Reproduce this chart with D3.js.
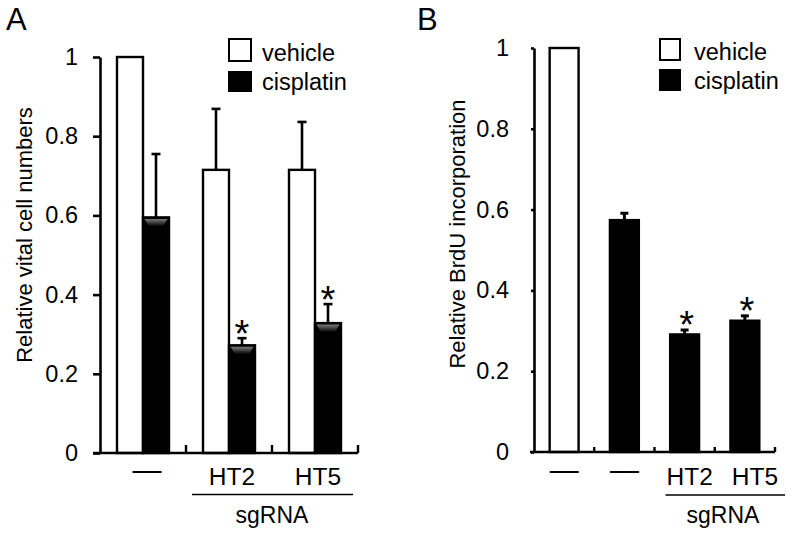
<!DOCTYPE html>
<html>
<head>
<meta charset="utf-8">
<script src="https://cdn.jsdelivr.net/npm/d3@7"></script>
<style>
  html, body { margin: 0; padding: 0; background: #fff; }
  svg { display: block; }
  text { font-family: "Liberation Sans", Arial, Helvetica, sans-serif; fill: #000; }
</style>
</head>
<body>
<svg id="chart" width="792" height="538"></svg>
<script>
// ---------- Panel A data ----------
const groupsA = ["none", "HT2", "HT5"];
const labelsA = ["\u2014", "HT2", "HT5"];
const vehicleA = [1.0, 0.715, 0.715];
const vehicleErrA = [0, 0.154, 0.121];
const cisplatinA = [0.595, 0.272, 0.328];
const cisplatinErrA = [0.160, 0.018, 0.048];
const sigVehicleA = [false, false, false];
const sigCisplatinA = [false, true, true];
const yTicksA = [0, 0.2, 0.4, 0.6, 0.8, 1];

// ---------- Panel B data ----------
const groupsB = ["vehicle", "cisplatin", "HT2", "HT5"];
const labelsB = ["\u2014", "\u2014", "HT2", "HT5"];
const treatmentB = ["vehicle", "cisplatin", "cisplatin", "cisplatin"];
const valuesB = [1.0, 0.574, 0.291, 0.325];
const errB = [0, 0.017, 0.011, 0.012];
const sigB = [false, false, true, true];
const yTicksB = [0, 0.2, 0.4, 0.6, 0.8, 1];

const legendItems = ["vehicle", "cisplatin"];
const yTitleA = "Relative vital cell numbers";
const yTitleB = "Relative BrdU incorporation";
const groupTitle = "sgRNA";

const svg = d3.select("#chart");
const FONT = 22;
const TICKFONT = 23.5;
const fmt = d => (d === 0 || d === 1) ? String(d) : d.toFixed(1);

const defs = svg.append("defs");
const grad = defs.append("linearGradient").attr("id", "sheen").attr("x1", 0).attr("y1", 0).attr("x2", 0).attr("y2", 1);
grad.append("stop").attr("offset", "0%").attr("stop-color", "#7a7a7a");
grad.append("stop").attr("offset", "100%").attr("stop-color", "#000");

function fillFor(t) { return t === "vehicle" ? "#fff" : "#000"; }

// ================= Panel A =================
(function () {
  const g = svg.append("g");
  const y = d3.scaleLinear().domain([0, 1]).range([453, 57]);
  const x = d3.scaleBand().domain(groupsA).range([100, 358]).padding(0);
  const sub = d3.scaleBand().domain(legendItems).range([0, 52]);
  const barW = sub.bandwidth();

  g.append("text").attr("x", 6).attr("y", 30).style("font-size", "31px").text("A");

  const ya = g.append("g").attr("transform", "translate(100,0)")
    .call(d3.axisLeft(y).tickValues(yTicksA).tickFormat(fmt).tickSize(7).tickSizeOuter(0).tickPadding(15));
  ya.select(".domain").attr("stroke", "#000").attr("stroke-width", 2.6);
  ya.selectAll(".tick line").attr("stroke", "#000").attr("stroke-width", 2.6);
  ya.selectAll(".tick text").style("font-size", TICKFONT + "px").style("font-family", "Liberation Sans, Arial, sans-serif").attr("fill", "#000");

  g.append("text")
    .attr("transform", `translate(32,${(y(0) + y(1)) / 2 - 20}) rotate(-90)`)
    .attr("text-anchor", "middle").style("font-size", FONT + "px").text(yTitleA);

  const series = [
    { key: "vehicle", vals: vehicleA, errs: vehicleErrA, sig: sigVehicleA },
    { key: "cisplatin", vals: cisplatinA, errs: cisplatinErrA, sig: sigCisplatinA }
  ];
  series.forEach(s => {
    groupsA.forEach((grp, i) => {
      const x0 = x(grp) + x.bandwidth() / 2 - 26 + sub(s.key);
      const cx = x0 + barW / 2;
      const v = s.vals[i], e = s.errs[i];
      if (e > 0) {
        g.append("line").attr("x1", cx).attr("x2", cx).attr("y1", y(v)).attr("y2", y(v + e))
          .attr("stroke", "#000").attr("stroke-width", 2.6);
        g.append("line").attr("x1", cx - 4.5).attr("x2", cx + 4.5).attr("y1", y(v + e)).attr("y2", y(v + e))
          .attr("stroke", "#000").attr("stroke-width", 2.6);
      }
      g.append("rect").attr("x", x0).attr("y", y(v)).attr("width", barW).attr("height", y(0) - y(v))
        .attr("fill", fillFor(s.key)).attr("stroke", "#000").attr("stroke-width", 2.4);
      if (s.key === "cisplatin") {
        const t = y(v);
        g.append("path")
          .attr("d", `M${x0 + 1.5},${t + 1.5} L${x0 + barW - 1.5},${t + 1.5} L${x0 + barW - 6},${t + 9} L${x0 + 6},${t + 9} Z`)
          .attr("fill", "url(#sheen)");
      }
      if (s.sig[i]) {
        g.append("text").attr("x", cx).attr("y", y(v + e) - 14).attr("dy", "0.6em")
          .attr("text-anchor", "middle").style("font-size", "38px").text("*");
      }
    });
  });

  g.append("line").attr("x1", 93).attr("x2", x.range()[1]).attr("y1", y(0)).attr("y2", y(0))
    .attr("stroke", "#000").attr("stroke-width", 2.6);
  groupsA.forEach(grp => {
    const bx = x(grp) + x.bandwidth();
    g.append("line").attr("x1", bx).attr("x2", bx).attr("y1", y(0)).attr("y2", y(0) - 8)
      .attr("stroke", "#000").attr("stroke-width", 2.4);
  });

  labelsA.forEach((lab, i) => {
    const cx = x(groupsA[i]) + x.bandwidth() / 2;
    if (lab === "\u2014") {
      g.append("text").attr("x", cx + 4).attr("y", 480).attr("text-anchor", "middle")
        .style("font-size", "29px").text(lab);
    } else {
      g.append("text").attr("x", cx + 3).attr("y", 485).attr("text-anchor", "middle")
        .style("font-size", "24.5px").text(lab);
    }
  });
  g.append("line").attr("x1", x("HT2") + 6).attr("x2", x("HT5") + x.bandwidth() - 5)
    .attr("y1", 494.5).attr("y2", 494.5).attr("stroke", "#000").attr("stroke-width", 1.3);
  g.append("text").attr("x", (x("HT2") + x("HT5") + x.bandwidth()) / 2).attr("y", 523)
    .attr("text-anchor", "middle").style("font-size", "23px").text(groupTitle);

  legendItems.forEach((k, i) => {
    const ly = 39 + i * 32;
    g.append("rect").attr("x", 229).attr("y", ly + (i ? 1 : 0)).attr("width", 22).attr("height", i ? 19 : 22)
      .attr("fill", fillFor(k)).attr("stroke", "#000").attr("stroke-width", 2);
    g.append("text").attr("x", 262).attr("y", 61 + i * 29).style("font-size", "23.5px").text(k);
  });
})();

// ================= Panel B =================
(function () {
  const g = svg.append("g");
  const y = d3.scaleLinear().domain([0, 1]).range([452, 48]);
  const x = d3.scaleBand().domain(groupsB).range([534, 775]).padding(0);
  const barW = x.bandwidth() * 0.48;

  g.append("text").attr("x", 417).attr("y", 30).style("font-size", "31px").text("B");

  const ya = g.append("g").attr("transform", "translate(534,0)")
    .call(d3.axisLeft(y).tickValues(yTicksB).tickFormat(fmt).tickSize(3).tickSizeOuter(0).tickPadding(22));
  ya.select(".domain").attr("stroke", "#000").attr("stroke-width", 2.6);
  ya.selectAll(".tick line").attr("stroke", "#000").attr("stroke-width", 2.6);
  ya.selectAll(".tick text").style("font-size", TICKFONT + "px").style("font-family", "Liberation Sans, Arial, sans-serif").attr("fill", "#000");

  g.append("text")
    .attr("transform", `translate(465,${(y(0) + y(1)) / 2 - 16}) rotate(-90)`)
    .attr("text-anchor", "middle").style("font-size", FONT + "px").text(yTitleB);

  groupsB.forEach((grp, i) => {
    const cx = x(grp) + x.bandwidth() / 2;
    const x0 = cx - barW / 2;
    const v = valuesB[i], e = errB[i];
    if (e > 0) {
      g.append("line").attr("x1", cx).attr("x2", cx).attr("y1", y(v)).attr("y2", y(v + e))
        .attr("stroke", "#000").attr("stroke-width", 3);
      g.append("line").attr("x1", cx - 4).attr("x2", cx + 4).attr("y1", y(v + e)).attr("y2", y(v + e))
        .attr("stroke", "#000").attr("stroke-width", 3);
    }
    g.append("rect").attr("x", x0).attr("y", y(v)).attr("width", barW).attr("height", y(0) - y(v))
      .attr("fill", fillFor(treatmentB[i])).attr("stroke", "#000").attr("stroke-width", 2.4);
    if (sigB[i]) {
      g.append("text").attr("x", cx + 2).attr("y", y(v + e) - 15).attr("dy", "0.6em")
        .attr("text-anchor", "middle").style("font-size", "38px").text("*");
    }
  });

  g.append("line").attr("x1", 530).attr("x2", x.range()[1]).attr("y1", y(0)).attr("y2", y(0))
    .attr("stroke", "#000").attr("stroke-width", 2.6);
  groupsB.forEach(grp => {
    const bx = x(grp) + x.bandwidth();
    g.append("line").attr("x1", bx).attr("x2", bx).attr("y1", y(0)).attr("y2", y(0) - 5)
      .attr("stroke", "#000").attr("stroke-width", 2.4);
  });

  const labelShift = [0, 0, 5, 10];
  labelsB.forEach((lab, i) => {
    const cx = x(groupsB[i]) + x.bandwidth() / 2 + labelShift[i];
    if (lab === "\u2014") {
      g.append("text").attr("x", cx).attr("y", 480).attr("text-anchor", "middle")
        .style("font-size", "29px").text(lab);
    } else {
      g.append("text").attr("x", cx).attr("y", 485).attr("text-anchor", "middle")
        .style("font-size", "24.5px").text(lab);
    }
  });
  g.append("line").attr("x1", x("HT2") + 11).attr("x2", x("HT5") + x.bandwidth() + 10)
    .attr("y1", 495).attr("y2", 495).attr("stroke", "#000").attr("stroke-width", 1.3);
  g.append("text").attr("x", 723).attr("y", 523)
    .attr("text-anchor", "middle").style("font-size", "23px").text(groupTitle);

  legendItems.forEach((k, i) => {
    const ly = 39 + i * 31;
    g.append("rect").attr("x", 660).attr("y", ly).attr("width", 20).attr("height", i ? 20 : 21)
      .attr("fill", fillFor(k)).attr("stroke", "#000").attr("stroke-width", 2);
    g.append("text").attr("x", 694).attr("y", 60 + i * 29).style("font-size", "23.5px").text(k);
  });
})();
</script>
</body>
</html>
